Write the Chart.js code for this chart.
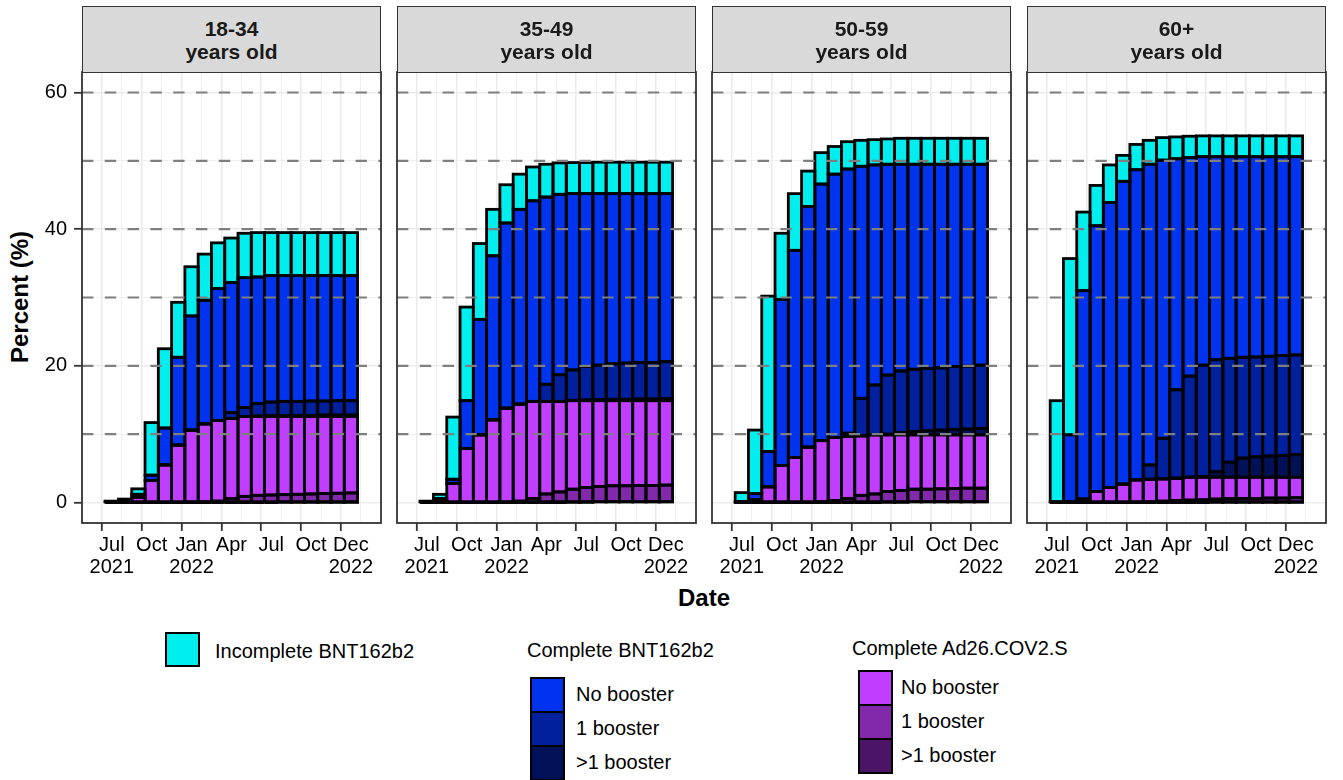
<!DOCTYPE html>
<html>
<head>
<meta charset="utf-8">
<title>Vaccination coverage by age group</title>
<script src="https://cdn.jsdelivr.net/npm/chart.js@4.4.1/dist/chart.umd.min.js"></script>
<style>
  html, body { margin: 0; padding: 0; background: #fff; }
  body { width: 1343px; height: 780px; position: relative; overflow: hidden;
         font-family: 'Liberation Sans', Arial, Helvetica, sans-serif; color: #000; }
  canvas { position: absolute; }
  .strip { position: absolute; top: 6px; width: 299px; height: 67px; box-sizing: border-box;
           background: #d9d9d9; border: 1.8px solid #333; display: flex; align-items: center;
           justify-content: center; text-align: center; font-weight: bold; font-size: 21px;
           line-height: 23px; color: #1a1a1a; z-index: 2; }
  .title { position: absolute; font-weight: bold; font-size: 24px; white-space: nowrap; }
  .key { position: absolute; width: 35px; box-sizing: border-box; border: 2.5px solid #000; }
  .lab { position: absolute; font-size: 20px; white-space: nowrap; transform: translateY(-50%); }
</style>
</head>
<body>
<div class="title" style="left:20px;top:297px;transform:translate(-50%,-50%) rotate(-90deg);">Percent (%)</div>
<div class="title" style="left:704px;top:598px;transform:translate(-50%,-50%);">Date</div>

<!-- legend -->
<div class="key" style="left:165px;top:632px;height:35px;background:#00EEEE"></div>
<div class="lab" style="left:215px;top:651px">Incomplete BNT162b2</div>

<div class="lab" style="left:527px;top:650px">Complete BNT162b2</div>
<div class="key" style="left:530px;top:677px;height:36px;background:#0033EE"></div>
<div class="key" style="left:530px;top:711px;height:36px;background:#00209E"></div>
<div class="key" style="left:530px;top:745px;height:36px;background:#001157"></div>
<div class="lab" style="left:576px;top:694px">No booster</div>
<div class="lab" style="left:576px;top:728px">1 booster</div>
<div class="lab" style="left:576px;top:762px">&gt;1 booster</div>

<div class="lab" style="left:852px;top:648px">Complete Ad26.COV2.S</div>
<div class="key" style="left:858px;top:670px;height:36px;background:#BF3EFF"></div>
<div class="key" style="left:858px;top:704px;height:36px;background:#8229AB"></div>
<div class="key" style="left:858px;top:738px;height:36px;background:#4B1466"></div>
<div class="lab" style="left:901px;top:687px">No booster</div>
<div class="lab" style="left:901px;top:721px">1 booster</div>
<div class="lab" style="left:901px;top:755px">&gt;1 booster</div>

<script>
// Month-end reporting dates, one bar each
const monthEnds = ['2021-06-30','2021-07-31','2021-08-31','2021-09-30','2021-10-31','2021-11-30',
  '2021-12-31','2022-01-31','2022-02-28','2022-03-31','2022-04-30','2022-05-31','2022-06-30',
  '2022-07-31','2022-08-31','2022-09-30','2022-10-31','2022-11-30','2022-12-31'];

// Axis ticks
const xTickIndex  = [0, 3, 6, 9, 12, 15, 18];
const xTickLabels = [['Jul','2021'], ['Oct'], ['Jan','2022'], ['Apr'], ['Jul'], ['Oct'], ['Dec','2022']];
const yTickValues = [0, 20, 40, 60];
const yGridValues = [0, 10, 20, 30, 40, 50, 60];
const refLevels   = [10, 20, 30, 40, 50, 60];

const ageGroups = ['18-34', '35-49', '50-59', '60+'];

// Percent of population, per month (stack order bottom to top)
// 18-34
const adMulti_18_34    = [0,0,0,0,0,0,0,0,0,0,0,0,0,0.05,0.05,0.05,0.05,0.05,0.05];
const adOne_18_34      = [0,0,0,0,0,0,0.05,0.1,0.2,0.6,0.9,1.05,1.1,1.1,1.15,1.2,1.25,1.3,1.35];
const adNone_18_34     = [0.1,0.2,0.8,3.2,5.5,8.4,10.55,11.4,11.8,11.7,11.7,11.55,11.5,11.45,11.4,11.35,11.3,11.25,11.2];
const bntMulti_18_34   = [0,0,0,0,0,0,0,0,0,0,0,0.05,0.1,0.1,0.15,0.15,0.2,0.2,0.2];
const bntOne_18_34     = [0,0,0,0,0,0,0,0,0,0.85,1.3,1.85,2.0,2.1,2.05,2.1,2.05,2.1,2.1];
const bntNone_18_34    = [0.05,0.1,0.4,0.8,5.4,12.85,16.7,18.1,19.3,19.05,19.0,18.5,18.5,18.4,18.4,18.35,18.35,18.3,18.3];
const incomplete_18_34 = [0.05,0.2,0.8,7.7,11.6,8.05,7.2,6.75,6.7,6.5,6.5,6.5,6.3,6.3,6.3,6.3,6.3,6.3,6.3];
// 35-49
const adMulti_35_49    = [0,0,0,0,0,0,0,0,0,0,0,0.05,0.05,0.1,0.1,0.1,0.1,0.1,0.1];
const adOne_35_49      = [0,0,0,0,0,0,0.05,0.2,0.6,1.25,1.55,1.9,2.15,2.25,2.35,2.35,2.4,2.4,2.45];
const adNone_35_49     = [0.1,0.5,2.8,7.9,9.9,12.1,13.75,14.2,14.2,13.55,13.25,12.95,12.7,12.55,12.45,12.45,12.4,12.4,12.35];
const bntMulti_35_49   = [0,0,0,0,0,0,0,0,0,0,0,0.05,0.1,0.15,0.2,0.2,0.25,0.25,0.3];
const bntOne_35_49     = [0,0,0,0,0,0,0,0,0,2.5,3.9,4.45,4.9,5.05,5.2,5.3,5.35,5.35,5.4];
const bntNone_35_49    = [0.05,0.1,0.6,7.0,16.9,24.0,27.1,28.5,29.35,27.4,26.4,25.8,25.3,25.1,24.9,24.8,24.7,24.7,24.6];
const incomplete_35_49 = [0.05,0.6,9.1,13.7,11.1,6.8,5.6,5.15,4.95,4.8,4.6,4.55,4.55,4.6,4.6,4.6,4.6,4.6,4.6];
// 50-59
const adMulti_50_59    = [0,0,0,0,0,0,0,0,0,0,0,0.05,0.05,0.1,0.1,0.1,0.1,0.1,0.1];
const adOne_50_59      = [0,0,0,0,0,0,0.1,0.3,0.6,1.05,1.25,1.55,1.7,1.85,1.85,1.9,1.95,2.0,2.0];
const adNone_50_59     = [0.05,0.4,2.3,5.4,6.6,8.1,8.95,9.2,9.05,8.7,8.65,8.3,8.15,7.95,7.95,7.9,7.85,7.8,7.8];
const bntMulti_50_59   = [0,0,0,0,0,0,0,0,0,0,0,0.1,0.35,0.5,0.6,0.7,0.8,0.85,0.95];
const bntOne_50_59     = [0,0,0,0,0,0,0,0,0.5,5.5,7.3,8.65,9.0,9.1,9.1,9.1,9.2,9.2,9.25];
const bntNone_50_59    = [0.05,0.9,5.15,24.3,30.3,35.2,37.55,38.55,38.65,33.95,32.2,30.85,30.25,30.0,29.9,29.8,29.6,29.55,29.4];
const incomplete_50_59 = [1.35,9.3,22.75,9.7,8.3,5.2,4.6,4.05,4.0,3.8,3.7,3.7,3.8,3.8,3.8,3.8,3.8,3.8,3.8];
// 60+
const adMulti_60       = [0,0,0,0,0,0,0,0,0,0,0,0,0.05,0.05,0.05,0.05,0.05,0.05,0.05];
const adOne_60         = [0,0,0,0,0,0,0.05,0.1,0.2,0.3,0.35,0.4,0.45,0.5,0.55,0.55,0.6,0.6,0.65];
const adNone_60        = [0,0.1,0.5,1.6,2.2,2.7,3.25,3.3,3.25,3.25,3.35,3.3,3.2,3.15,3.1,3.1,3.05,3.05,3.0];
const bntMulti_60      = [0,0,0,0,0,0,0,0,0,0,0,0.1,0.8,2.2,2.8,3.0,3.1,3.2,3.3];
const bntOne_60        = [0,0,0,0,0,0,0,2.1,5.95,12.95,14.8,16.3,16.4,15.2,14.75,14.6,14.6,14.6,14.6];
const bntNone_60       = [0.1,9.8,30.5,38.9,41.7,44.3,45.4,44.0,40.7,33.8,32.0,30.5,29.7,29.5,29.35,29.3,29.2,29.1,29.0];
const incomplete_60    = [14.8,25.8,11.5,5.9,5.5,3.8,3.7,3.5,3.3,3.2,3.1,3.05,3.05,3.05,3.05,3.05,3.05,3.05,3.05];

const seriesNames  = ['Ad26.COV2.S >1 booster', 'Ad26.COV2.S 1 booster', 'Ad26.COV2.S no booster',
                      'BNT162b2 >1 booster', 'BNT162b2 1 booster', 'BNT162b2 no booster', 'Incomplete BNT162b2'];
const seriesColors = ['#4B1466', '#8229AB', '#BF3EFF', '#001157', '#00209E', '#0033EE', '#00EEEE'];

const panelSeries = [
  [adMulti_18_34, adOne_18_34, adNone_18_34, bntMulti_18_34, bntOne_18_34, bntNone_18_34, incomplete_18_34],
  [adMulti_35_49, adOne_35_49, adNone_35_49, bntMulti_35_49, bntOne_35_49, bntNone_35_49, incomplete_35_49],
  [adMulti_50_59, adOne_50_59, adNone_50_59, bntMulti_50_59, bntOne_50_59, bntNone_50_59, incomplete_50_59],
  [adMulti_60, adOne_60, adNone_60, bntMulti_60, bntOne_60, bntNone_60, incomplete_60]
];

// Layout
const FONT = "'Liberation Sans', Arial, Helvetica, sans-serif";
const PANEL_W = 299, PANEL_GAP = 16, FIRST_LEFT = 82, SIDE = 40;
const PANEL_TOP = 72, PANEL_H = 451;
const PAD_TOP = 30, X_AXIS_H = 69;
const CANVAS_H = PAD_TOP + PANEL_H + X_AXIS_H;

// Outlines every bar segment (stroke centred on the edge), then the dashed reference lines
const panelDecor = {
  id: 'panelDecor',
  afterDatasetsDraw(chart) {
    const ctx = chart.ctx;
    const area = chart.chartArea;
    ctx.save();
    ctx.lineWidth = 2.8;
    ctx.strokeStyle = '#000';
    ctx.lineJoin = 'miter';
    chart.data.datasets.forEach((ds, i) => {
      chart.getDatasetMeta(i).data.forEach(el => {
        const p = el.getProps(['x', 'y', 'base', 'width'], true);
        ctx.strokeRect(p.x - p.width / 2, Math.min(p.y, p.base), p.width, Math.abs(p.base - p.y));
      });
    });
    const ys = chart.scales.y;
    ctx.setLineDash([11.4, 11.4]);
    ctx.lineWidth = 2.2;
    ctx.strokeStyle = '#7f7f7f';
    refLevels.forEach(v => {
      const y = ys.getPixelForValue(v);
      ctx.beginPath();
      ctx.moveTo(area.left, y);
      ctx.lineTo(area.right, y);
      ctx.stroke();
    });
    ctx.restore();
  },
  afterDraw(chart) {
    const ctx = chart.ctx, a = chart.chartArea;
    ctx.save();
    ctx.lineWidth = 1.8;
    ctx.strokeStyle = '#333';
    ctx.strokeRect(a.left, a.top, a.right - a.left, a.bottom - a.top);
    ctx.restore();
  }
};

function makePanel(k) {
  const panelLeft = FIRST_LEFT + k * (PANEL_W + PANEL_GAP);
  const first = k === 0;
  const canvasLeft = first ? 0 : panelLeft - SIDE;
  const canvasW = first ? FIRST_LEFT + PANEL_W + SIDE : PANEL_W + 2 * SIDE;

  const strip = document.createElement('div');
  strip.className = 'strip';
  strip.style.left = panelLeft + 'px';
  strip.innerHTML = ageGroups[k] + '<br>years old';
  document.body.appendChild(strip);

  const cv = document.createElement('canvas');
  cv.width = canvasW; cv.height = CANVAS_H;
  cv.style.left = canvasLeft + 'px';
  cv.style.top = (PANEL_TOP - PAD_TOP) + 'px';
  cv.style.width = canvasW + 'px'; cv.style.height = CANVAS_H + 'px';
  document.body.appendChild(cv);

  const datasets = panelSeries[k].map((vals, i) => ({
    label: seriesNames[i],
    data: vals,
    backgroundColor: seriesColors[i],
    borderWidth: 0,
    barPercentage: 1,
    categoryPercentage: 1
  }));

  const isMajorX = v => xTickIndex.includes(v);
  const isMajorY = v => yTickValues.includes(v);

  const options = {
    responsive: false,
    animation: false,
    devicePixelRatio: 1,
    events: [],
    layout: { autoPadding: false, padding: { left: first ? 0 : SIDE, right: SIDE, top: PAD_TOP, bottom: 0 } },
    plugins: { legend: { display: false }, tooltip: { enabled: false } },
    scales: {
      x: {
        type: 'linear', stacked: true, min: -1.38, max: 19.4,
        afterBuildTicks: s => { s.ticks = []; for (let v = 0; v <= 18; v += 1.5) s.ticks.push({ value: v }); },
        afterFit: s => { s.height = X_AXIS_H; },
        border: { display: false },
        grid: {
          color: '#ebebeb',
          lineWidth: c => (c.tick && isMajorX(c.tick.value)) ? 1.6 : 0.8,
          tickColor: c => (c.tick && isMajorX(c.tick.value)) ? '#333' : 'rgba(0,0,0,0)',
          tickLength: 8, tickWidth: 1.8
        },
        ticks: {
          autoSkip: false, maxRotation: 0, minRotation: 0, padding: 3,
          color: '#000', font: { family: FONT, size: 20, lineHeight: 1.1 },
          callback: v => { const j = xTickIndex.indexOf(v); return j >= 0 ? xTickLabels[j] : ''; }
        }
      },
      y: {
        type: 'linear', stacked: true, min: -3, max: 63,
        afterBuildTicks: s => { s.ticks = yGridValues.map(v => ({ value: v })); },
        afterFit: s => { s.width = first ? FIRST_LEFT : 0; s.paddingTop = 0; s.paddingBottom = 0; },
        border: { display: false },
        grid: {
          color: '#ebebeb',
          lineWidth: c => (c.tick && isMajorY(c.tick.value)) ? 1.6 : 0.8,
          drawTicks: first,
          tickColor: c => (c.tick && isMajorY(c.tick.value)) ? '#333' : 'rgba(0,0,0,0)',
          tickLength: 8, tickWidth: 1.8
        },
        ticks: {
          display: first, padding: 7, color: '#000',
          font: { family: FONT, size: 20 },
          callback: v => isMajorY(v) ? String(v) : ''
        }
      }
    }
  };

  const chart = new Chart(cv, {
    type: 'bar',
    data: { labels: monthEnds.map((d, i) => i), datasets },
    options,
    plugins: [panelDecor]
  });

  // keep every plot area on the same rows, whatever room the tick labels asked for
  for (let pass = 0; pass < 3; pass++) {
    const dTop = chart.chartArea.top - PAD_TOP;
    const dBottom = chart.chartArea.bottom - (PAD_TOP + PANEL_H);
    if (Math.abs(dTop) < 0.01 && Math.abs(dBottom) < 0.01) break;
    chart.config.options.layout.padding.top -= dTop;
    chart.config.options.layout.padding.bottom += dBottom;
    chart.update();
  }
}

for (let k = 0; k < ageGroups.length; k++) makePanel(k);
</script>
</body>
</html>
